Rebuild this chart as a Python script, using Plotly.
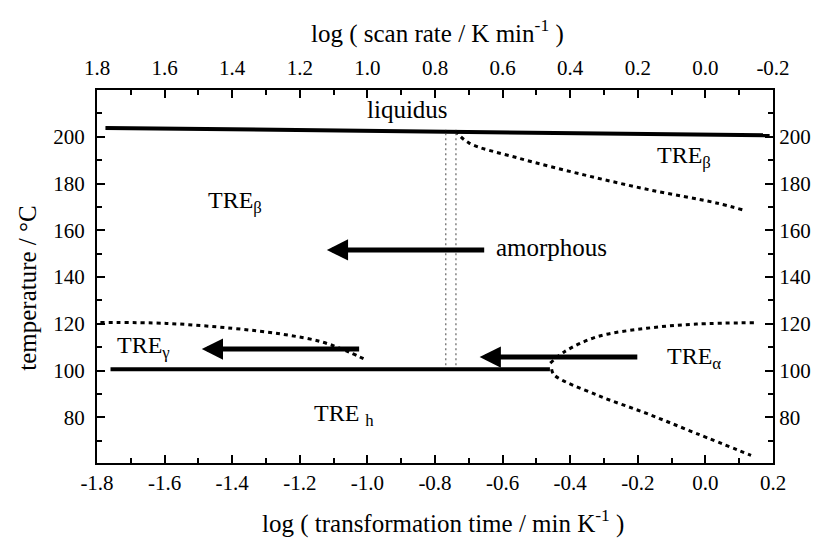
import plotly.graph_objects as go

# ---- data ----
liquidus_x = [-1.775, 0.19]
liquidus_y = [203.8, 200.6]

hline_x = [-1.76, -0.46]
hline_y = [100.6, 100.6]

beta_curve_x = [-0.74, -0.70, -0.556, -0.359, -0.165, 0.032, 0.112]
beta_curve_y = [202.5, 197.4, 191.0, 183.7, 177.3, 171.7, 168.7]

gamma_curve_x = [-1.79, -1.594, -1.40, -1.253, -1.135, -1.056, -1.003]
gamma_curve_y = [120.6, 120.2, 118.1, 115.6, 112.3, 108.0, 104.5]

alpha_up_x = [-0.459, -0.418, -0.32, -0.174, -0.026, 0.144]
alpha_up_y = [103.2, 108.0, 114.5, 118.1, 119.9, 120.5]

alpha_low_x = [-0.455, -0.447, -0.32, -0.174, -0.026, 0.135]
alpha_low_y = [100.6, 98.1, 89.5, 81.7, 73.1, 63.8]

vline1_x = [-0.768, -0.768]
vline2_x = [-0.738, -0.738]
vline_y = [102.3, 203.0]

# arrows: (tail_x, tip_x, y)
arrows = [(-0.65, -1.12, 151.6), (-1.02, -1.49, 109.2), (-0.197, -0.668, 105.8)]

labels_text = ["liquidus", "TRE<sub>β</sub>", "TRE<sub>β</sub>", "amorphous",
               "TRE<sub>γ</sub>", "TRE<sub>α</sub>", "TRE <sub>h</sub>"]
labels_x = [-1.005, -1.476, -0.146, -0.623, -1.743, -0.117, -1.161]
labels_y = [211.5, 172.0, 191.5, 152.5, 110.0, 105.5, 81.0]
labels_size = [25, 24, 24, 25, 24, 24, 24]

x_ticks = [-1.8, -1.6, -1.4, -1.2, -1.0, -0.8, -0.6, -0.4, -0.2, 0.0, 0.2]
top_ticks = [1.8, 1.6, 1.4, 1.2, 1.0, 0.8, 0.6, 0.4, 0.2, 0.0, -0.2]
y_ticks = [80, 100, 120, 140, 160, 180, 200]

FONT = "'Liberation Serif', 'Times New Roman', serif"
BLACK = "black"

fig = go.Figure()

solid = dict(color=BLACK, width=4)
dotted = dict(color=BLACK, width=3, dash="4px,4px")
thin = dict(color="#444", width=1, dash="2px,3px")

fig.add_trace(go.Scatter(x=liquidus_x, y=liquidus_y, mode="lines", line=solid))
fig.add_trace(go.Scatter(x=hline_x, y=hline_y, mode="lines", line=solid))
for cx, cy in [(beta_curve_x, beta_curve_y), (gamma_curve_x, gamma_curve_y),
               (alpha_up_x, alpha_up_y), (alpha_low_x, alpha_low_y)]:
    fig.add_trace(go.Scatter(x=cx, y=cy, mode="lines", line=dict(dotted, shape="spline")))
fig.add_trace(go.Scatter(x=vline1_x, y=vline_y, mode="lines", line=thin))
fig.add_trace(go.Scatter(x=vline2_x, y=vline_y, mode="lines", line=thin))

# invisible traces so secondary axes get drawn
fig.add_trace(go.Scatter(x=[1.8, -0.2], y=[None, None], xaxis="x2", yaxis="y", mode="lines", hoverinfo="skip"))
fig.add_trace(go.Scatter(x=[-1.8, 0.2], y=[None, None], xaxis="x", yaxis="y2", mode="lines", hoverinfo="skip"))

for tail_x, tip_x, ay in arrows:
    fig.add_annotation(x=tip_x, y=ay, ax=tail_x, ay=ay, xref="x", yref="y", axref="x", ayref="y",
                       text="", showarrow=True, arrowhead=2, arrowsize=0.85, arrowwidth=5,
                       arrowcolor=BLACK, standoff=0)

for t, lx, ly, fs in zip(labels_text, labels_x, labels_y, labels_size):
    fig.add_annotation(x=lx, y=ly, text=t, showarrow=False, xref="x", yref="y",
                       xanchor="left", yanchor="middle", borderpad=0,
                       font=dict(family=FONT, size=fs, color=BLACK))

# axis titles
title_font = dict(family=FONT, size=25, color=BLACK)
fig.add_annotation(text="log ( transformation time / min K<sup>-1</sup> )", xref="paper", yref="paper",
                   x=0.512, y=-0.158, showarrow=False, xanchor="center", yanchor="middle", font=title_font)
fig.add_annotation(text="log ( scan rate / K min<sup>-1</sup> )", xref="paper", yref="paper",
                   x=0.504, y=1.158, showarrow=False, xanchor="center", yanchor="middle", font=title_font)
fig.add_annotation(text="temperature / °C", xref="paper", yref="paper", textangle=-90,
                   x=-0.104, y=0.469, showarrow=False, xanchor="center", yanchor="middle", font=title_font)

ax_common = dict(showline=True, linecolor=BLACK, linewidth=2, ticks="inside", ticklen=8,
                 tickwidth=2, tickcolor=BLACK, showgrid=False, zeroline=False,
                 tickfont=dict(family=FONT, size=21, color=BLACK))

fig.update_layout(
    width=823, height=538,
    margin=dict(l=97, r=46, t=90, b=75),
    paper_bgcolor="white", plot_bgcolor="white",
    showlegend=False,
    font=dict(family=FONT, color=BLACK),
    xaxis=dict(ax_common, range=[-1.8, 0.2], tickvals=x_ticks,
               ticktext=[f"{v:.1f}" for v in x_ticks],
               minor=dict(ticks="inside", ticklen=5, tickwidth=2, tickcolor=BLACK, dtick=0.1)),
    xaxis2=dict(ax_common, range=[1.8, -0.2], overlaying="x", side="top", anchor="y",
                tickvals=top_ticks, ticktext=[f"{v:.1f}" for v in top_ticks], ticklabelstandoff=5,
                minor=dict(ticks="inside", ticklen=5, tickwidth=2, tickcolor=BLACK, dtick=0.1)),
    yaxis=dict(ax_common, range=[60.5, 220], tickvals=y_ticks, ticklabelstandoff=6,
               minor=dict(ticks="inside", ticklen=5, tickwidth=2, tickcolor=BLACK, dtick=10)),
    yaxis2=dict(ax_common, range=[60.5, 220], overlaying="y", side="right", anchor="x",
                tickvals=y_ticks,
                minor=dict(ticks="inside", ticklen=5, tickwidth=2, tickcolor=BLACK, dtick=10)),
)

fig.write_html("out.html")
